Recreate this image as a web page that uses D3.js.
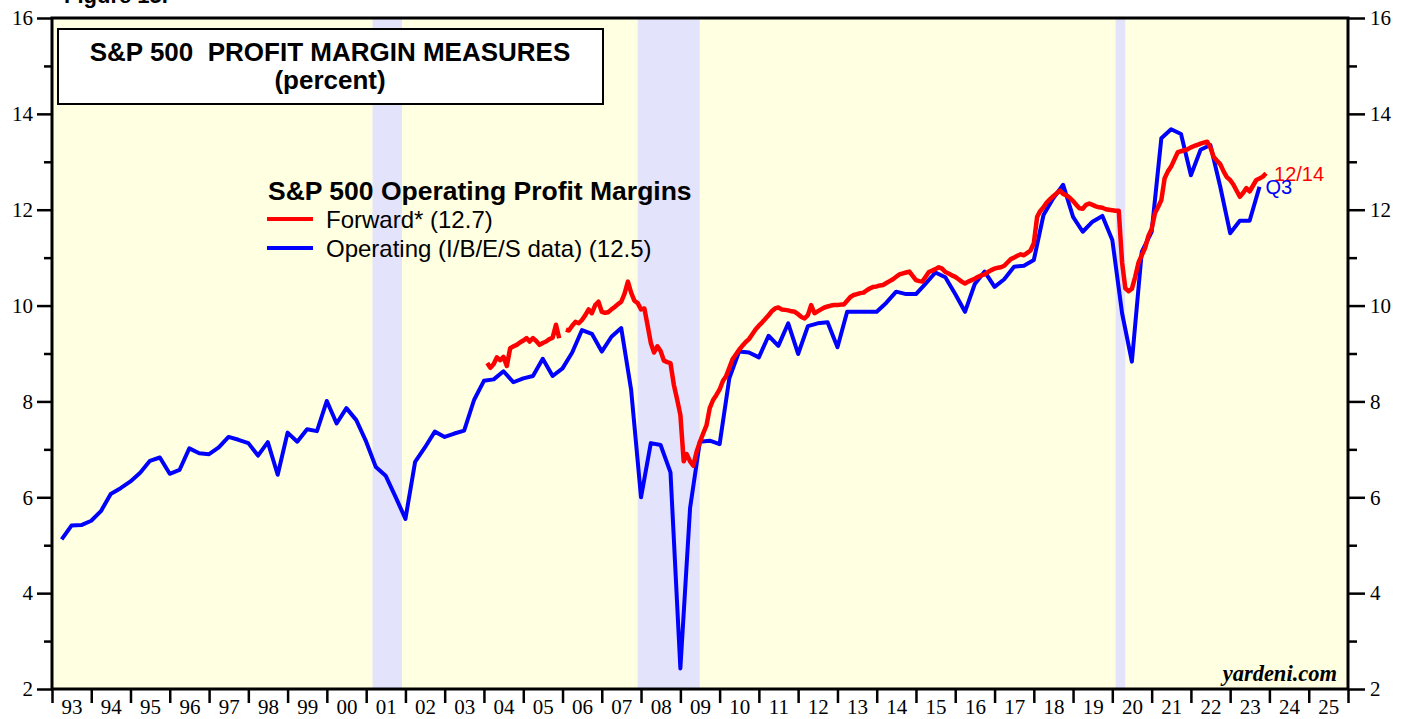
<!DOCTYPE html>
<html>
<head>
<meta charset="utf-8">
<script src="https://cdn.jsdelivr.net/npm/d3@7"></script>
<style>
  body { margin: 0; background: #fff; }
  svg { display: block; }
  .tick text { font-family: "Liberation Serif", "Times New Roman", serif; font-size: 21px; fill: #000; }
  .axis path { display: none; }
  .axis line { stroke: #000; stroke-width: 2.5; }
</style>
</head>
<body>
<div id="chart"></div>
<script>
// S&P 500 operating profit margins, percent

// quarterly, I/B/E/S data, 1993 Q1 .. 2023 Q3
var operatingMargin = [
  5.12, 5.41, 5.42, 5.51,   // 93
  5.71, 6.07, 6.19, 6.33,   // 94
  6.51, 6.76, 6.83, 6.49,   // 95
  6.57, 7.02, 6.92, 6.90,   // 96
  7.04, 7.26, 7.20, 7.13,   // 97
  6.87, 7.15, 6.47, 7.35,   // 98
  7.16, 7.42, 7.38, 8.01,   // 99
  7.54, 7.86, 7.61, 7.16,   // 00
  6.63, 6.45, 6.01, 5.55,   // 01
  6.74, 7.04, 7.37, 7.26,   // 02
  7.33, 7.39, 8.03, 8.43,   // 03
  8.46, 8.63, 8.40, 8.48,   // 04
  8.53, 8.89, 8.53, 8.69,   // 05
  9.02, 9.49, 9.41, 9.04,   // 06
  9.35, 9.53, 8.24, 6.00,   // 07
  7.13, 7.09, 6.52, 2.43,   // 08
  5.77, 7.16, 7.18, 7.11,   // 09
  8.48, 9.04, 9.02, 8.92,   // 10
  9.37, 9.16, 9.63, 8.99,   // 11
  9.57, 9.63, 9.65, 9.13,   // 12
  9.87, 9.87, 9.87, 9.87,   // 13
  10.06, 10.29, 10.24, 10.24, // 14
  10.46, 10.69, 10.59, 10.24, // 15
  9.87, 10.45, 10.71, 10.39,  // 16
  10.55, 10.81, 10.83, 10.95, // 17
  11.89, 12.24, 12.52, 11.85, // 18
  11.54, 11.75, 11.87, 11.37, // 19
  9.84, 8.83, 11.12, 11.54,   // 20
  13.49, 13.68, 13.58, 12.72, // 21
  13.25, 13.35, 12.48, 11.51, // 22
  11.77, 11.77, 12.48         // 23
];
var operatingFirstQuarterEnd = new Date(1993, 3, 1);

// monthly forward margin, Feb 2004 .. Dec 2023 (null = gap in the series)
var forwardMargin = [
  8.80, 8.70, 8.78, 8.92, 8.86, 8.93, 8.74, 9.11, 9.15, 9.18, 9.23,             // 04
  9.27, 9.32, 9.25, 9.32, 9.26, 9.18, 9.22, 9.25, 9.30, 9.33, 9.60, 9.32,       // 05
  null, 9.50, 9.48, 9.58, 9.66, 9.63, 9.70, 9.80, 9.92, 9.84, 10.01, 10.08,     // 06
  9.87, 9.85, 9.86, 9.92, 9.97, 10.03, 10.08, 10.25, 10.50, 10.27, 10.10, 10.05, // 07
  9.92, 9.94, 9.60, 9.22, 9.02, 9.15, 9.05, 8.85, 8.82, 8.80, 8.35, 8.05,       // 08
  7.72, 6.75, 6.90, 6.75, 6.66, 6.95, 7.15, 7.33, 7.50, 7.86, 8.03, 8.13,       // 09
  8.25, 8.43, 8.52, 8.70, 8.88, 8.98, 9.08, 9.16, 9.24, 9.30, 9.40, 9.50,       // 10
  9.58, 9.65, 9.72, 9.80, 9.88, 9.94, 9.96, 9.92, 9.91, 9.90, 9.88, 9.87,       // 11
  9.82, 9.76, 9.73, 9.80, 10.01, 9.84, 9.88, 9.92, 9.96, 9.98, 10.00, 10.01,    // 12
  10.01, 10.02, 10.02, 10.10, 10.18, 10.22, 10.24, 10.26, 10.27, 10.32, 10.36, 10.39, // 13
  10.40, 10.42, 10.43, 10.47, 10.51, 10.55, 10.60, 10.65, 10.67, 10.69, 10.71, 10.62, // 14
  10.53, 10.51, 10.50, 10.60, 10.70, 10.73, 10.76, 10.80, 10.77, 10.70, 10.67, 10.63, // 15
  10.60, 10.55, 10.50, 10.46, 10.50, 10.53, 10.56, 10.60, 10.63, 10.65, 10.70, 10.74, // 16
  10.77, 10.79, 10.80, 10.83, 10.90, 10.97, 11.00, 11.04, 11.07, 11.05, 11.10, 11.15, // 17
  11.30, 11.85, 11.97, 12.05, 12.15, 12.22, 12.28, 12.34, 12.40, 12.33, 12.30, 12.25, // 18
  12.18, 12.10, 12.03, 12.02, 12.10, 12.13, 12.10, 12.07, 12.05, 12.04, 12.01, 12.00, // 19
  11.99, 11.98, 11.98, 10.90, 10.36, 10.30, 10.35, 10.60, 10.90, 11.05, 11.20, 11.45, // 20
  11.60, 11.93, 12.05, 12.20, 12.65, 12.80, 12.90, 13.05, 13.20, 13.22, 13.24, 13.26, // 21
  13.30, 13.33, 13.35, 13.38, 13.40, 13.42, 13.30, 13.10, 13.02, 12.95, 12.80, 12.68, // 22
  12.62, 12.52, 12.40, 12.27, 12.35, 12.45, 12.38, 12.50, 12.62, 12.65, 12.69, 12.76  // 23
];
var forwardFirstMonth = new Date(2004, 1, 1);

// recessions (shaded)
var recessions = [
  ["2001-03-01", "2001-11-30"],
  ["2007-12-01", "2009-06-30"],
  ["2020-02-01", "2020-04-30"]
];

var yMajorTicks = [2, 4, 6, 8, 10, 12, 14, 16];
var yMinorTicks = [3, 5, 7, 9, 11, 13, 15];
var firstYear = 1993, lastYear = 2026;

var width = 1407, height = 719;
var margin = {top: 18, right: 59, bottom: 30, left: 52};
var parse = d3.timeParse("%Y-%m-%d");
var sans = "'Liberation Sans', Arial, sans-serif";

var x = d3.scaleTime()
  .domain([new Date(firstYear, 0, 1), new Date(lastYear, 0, 1)])
  .range([margin.left, width - margin.right]);
var y = d3.scaleLinear()
  .domain([2, 16])
  .range([height - margin.bottom, margin.top]);

var svg = d3.select("#chart").append("svg")
  .attr("width", width)
  .attr("height", height);

// background
svg.append("rect")
  .attr("x", x.range()[0]).attr("y", y(16))
  .attr("width", x.range()[1] - x.range()[0])
  .attr("height", y(2) - y(16))
  .attr("fill", "#ffffe2");

svg.append("g").selectAll("rect")
  .data(recessions).enter()
  .append("rect")
    .attr("x", function(d) { return x(parse(d[0])); })
    .attr("width", function(d) { return x(parse(d[1])) - x(parse(d[0])); })
    .attr("y", y(16))
    .attr("height", y(2) - y(16))
    .attr("fill", "#e3e3fb");

// axes
var yearTicks = d3.range(firstYear, lastYear + 1).map(function(yr) { return new Date(yr, 0, 1); });
var yearMids = d3.range(firstYear, lastYear).map(function(yr) { return new Date(yr, 6, 2); });

svg.append("g").attr("class", "axis")
  .attr("transform", "translate(0," + y(2) + ")")
  .call(d3.axisBottom(x).tickValues(yearTicks).tickSize(14).tickFormat(""));
svg.append("g").attr("class", "axis")
  .attr("transform", "translate(0," + y(2) + ")")
  .call(d3.axisBottom(x).tickValues(yearMids).tickSize(0).tickPadding(10).tickFormat(d3.timeFormat("%y")));

svg.append("g").attr("class", "axis")
  .attr("transform", "translate(" + x.range()[0] + ",0)")
  .call(d3.axisLeft(y).tickValues(yMajorTicks).tickSize(15).tickPadding(4).tickFormat(d3.format("d")));
svg.append("g").attr("class", "axis")
  .attr("transform", "translate(" + x.range()[0] + ",0)")
  .call(d3.axisLeft(y).tickValues(yMinorTicks).tickSize(8).tickFormat(""));
svg.append("g").attr("class", "axis")
  .attr("transform", "translate(" + x.range()[1] + ",0)")
  .call(d3.axisRight(y).tickValues(yMajorTicks).tickSize(17).tickPadding(5).tickFormat(d3.format("d")));
svg.append("g").attr("class", "axis")
  .attr("transform", "translate(" + x.range()[1] + ",0)")
  .call(d3.axisRight(y).tickValues(yMinorTicks).tickSize(9).tickFormat(""));

// lines
var opData = operatingMargin.map(function(v, i) {
  return {date: d3.timeMonth.offset(operatingFirstQuarterEnd, 3 * i), value: v};
});
var fwdData = forwardMargin.map(function(v, i) {
  return {date: d3.timeMonth.offset(forwardFirstMonth, i), value: v};
});

var line = d3.line()
  .defined(function(d) { return d.value != null; })
  .x(function(d) { return x(d.date); })
  .y(function(d) { return y(d.value); });

svg.append("path")
  .datum(opData)
  .attr("d", line)
  .attr("fill", "none")
  .attr("stroke", "#0000ff")
  .attr("stroke-width", 4)
  .attr("stroke-linejoin", "round");

svg.append("path")
  .datum(fwdData)
  .attr("d", line)
  .attr("fill", "none")
  .attr("stroke", "#ff0000")
  .attr("stroke-width", 4.5)
  .attr("stroke-linejoin", "round");

// frame
svg.append("rect")
  .attr("x", x.range()[0]).attr("y", y(16))
  .attr("width", x.range()[1] - x.range()[0])
  .attr("height", y(2) - y(16))
  .attr("fill", "none")
  .attr("stroke", "#000")
  .attr("stroke-width", 3);

// title box
svg.append("rect")
  .attr("x", 58).attr("y", 29).attr("width", 545).attr("height", 75)
  .attr("fill", "#fff").attr("stroke", "#000").attr("stroke-width", 2);
svg.append("text")
  .attr("x", 330).attr("y", 61)
  .attr("text-anchor", "middle")
  .style("white-space", "pre")
  .style("font", "bold 26px " + sans)
  .text("S&P 500  PROFIT MARGIN MEASURES");
svg.append("text")
  .attr("x", 330).attr("y", 89)
  .attr("text-anchor", "middle")
  .style("font", "bold 26px " + sans)
  .text("(percent)");

svg.append("text")
  .attr("x", 64).attr("y", 3)
  .style("font", "bold 22px " + sans)
  .text("Figure 15.");

// legend
var legend = svg.append("g").attr("transform", "translate(267,0)");
legend.append("text")
  .attr("x", 1).attr("y", 200)
  .style("font", "bold 26.5px " + sans)
  .text("S&P 500 Operating Profit Margins");
var legendItems = [
  {label: "Forward* (12.7)", color: "#ff0000", y: 219},
  {label: "Operating (I/B/E/S data) (12.5)", color: "#0000ff", y: 248}
];
legend.selectAll("line.item").data(legendItems).enter()
  .append("line")
    .attr("x1", 0).attr("x2", 46)
    .attr("y1", function(d) { return d.y; })
    .attr("y2", function(d) { return d.y; })
    .attr("stroke", function(d) { return d.color; })
    .attr("stroke-width", 4);
legend.selectAll("text.item").data(legendItems).enter()
  .append("text")
    .attr("x", 59)
    .attr("y", function(d) { return d.y + 9; })
    .style("font", "24px " + sans)
    .text(function(d) { return d.label; });

// end labels
var lastFwd = fwdData[fwdData.length - 1];
var lastOp = opData[opData.length - 1];
svg.append("text")
  .attr("x", x(lastFwd.date) + 8).attr("y", y(lastFwd.value) + 8)
  .attr("fill", "#ff0000")
  .style("font", "20px " + sans)
  .text("12/14");
svg.append("text")
  .attr("x", x(lastOp.date) + 6).attr("y", y(lastOp.value) + 7)
  .attr("fill", "#0000ff")
  .style("font", "20px " + sans)
  .text("Q3");

svg.append("text")
  .attr("x", x.range()[1] - 11).attr("y", y(2) - 8)
  .attr("text-anchor", "end")
  .style("font", "italic bold 22.5px 'Liberation Serif', 'Times New Roman', serif")
  .text("yardeni.com");
</script>
</body>
</html>
